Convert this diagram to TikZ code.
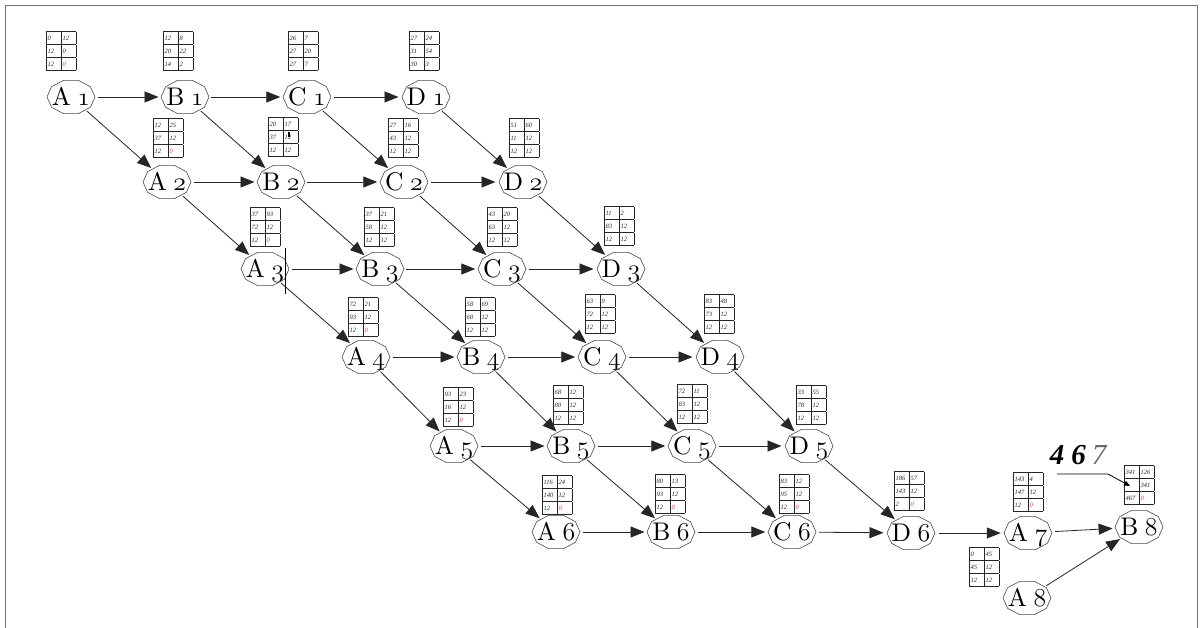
\documentclass[tikz,border=0pt]{standalone}
\usepackage{graphicx}
\usepackage{fontspec}
\newfontfamily\tms{Liberation Serif}
\usetikzlibrary{arrows.meta,shapes.geometric}
\definecolor{zred}{RGB}{225,60,60}
% red zero in the last cell
\newcommand\zr{\textcolor{zred}{0}}
% 2 x 3 grid of values above a state
\newcommand\cells[6]{{\tms\itshape\fontsize{6.5}{12}\selectfont
  \setlength\tabcolsep{1.5pt}\setlength\arrayrulewidth{0.8pt}%
  \begin{tabular}{|p{12pt}|p{12pt}|}\hline #1&#2\\\hline #3&#4\\\hline #5&#6\\\hline\end{tabular}}}
% old-style stage number, taken from the cmmi figures
\newcommand\osn[1]{\scalebox{2.15}{\fontsize{12}{12}\usefont{OML}{cmm}{m}{it}#1}}
% state letter
\newcommand\ltr[1]{\scalebox{2.55}{\fontsize{10}{10}\selectfont #1}}
% state label: letter and stage number
\newcommand\lab[2]{\ltr{#1}\hspace{6.5pt}\osn{#2}}

\begin{document}
\begin{tikzpicture}[x=1pt,y=-1pt,
  st/.style={ellipse, minimum width=47pt, minimum height=34pt, inner sep=0pt,
    text height=17pt, text depth=0pt},
  poly/.style={draw=black!70, line width=0.6pt},
  tb/.style={inner sep=0pt, text=black!85},
  ed/.style={draw=black!85, line width=0.8pt, -{Triangle[length=14pt,width=11pt]}},
]
\useasboundingbox (0,0) rectangle (1202,628);
\fill[white] (0,0) rectangle (1202,628);
\draw[black!55, line width=0.8pt] (5,628) -- (5,5) -- (1197,5) -- (1197,628);

% states
\node[st] (A1) at (71,97)  {\lab{A}{1}};
\node[st] (B1) at (185,97) {\lab{B}{1}};
\node[st] (C1) at (307,97) {\lab{C}{1}};
\node[st] (D1) at (426,97) {\lab{D}{1}};
\node[st] (A2) at (167,182) {\lab{A}{2}};
\node[st] (B2) at (281,182) {\lab{B}{2}};
\node[st] (C2) at (404,182) {\lab{C}{2}};
\node[st] (D2) at (523,182) {\lab{D}{2}};
\node[st] (A3) at (265,269) {\lab{A}{3}};
\node[st] (B3) at (380,269) {\lab{B}{3}};
\node[st] (C3) at (502,269) {\lab{C}{3}};
\node[st] (D3) at (621,269) {\lab{D}{3}};
\node[st] (A4) at (366,357) {\lab{A}{4}};
\node[st] (B4) at (481,357) {\lab{B}{4}};
\node[st] (C4) at (602,357) {\lab{C}{4}};
\node[st] (D4) at (720,357) {\lab{D}{4}};
\node[st] (A5) at (454,446) {\lab{A}{5}};
\node[st] (B5) at (571,446) {\lab{B}{5}};
\node[st] (C5) at (692,446) {\lab{C}{5}};
\node[st] (D5) at (809,446) {\lab{D}{5}};
\node[st] (A6) at (556,532) {\lab{A}{6}};
\node[st] (B6) at (671,532) {\lab{B}{6}};
\node[st] (C6) at (792,532) {\lab{C}{6}};
\node[st] (D6) at (911,533) {\lab{D}{6}};
\node[st] (A7) at (1028,533) {\lab{A}{7}};
\node[st] (B8) at (1139,527) {\lab{B}{8}};
\node[st] (A8) at (1027,598) {\lab{A}{8}};

% decagon outlines of the states
\foreach \n in {A1,B1,C1,D1,A2,B2,C2,D2,A3,B3,C3,D3,A4,B4,C4,D4,
                A5,B5,C5,D5,A6,B6,C6,D6,A7,B8,A8}{
  \draw[poly, shift={(\n.center)}] (0:24pt and 17.5pt)
    \foreach \a in {36,72,...,324}{ -- (\a:24pt and 17.5pt)} -- cycle;
}

% value grids
\node[tb] (tA1) at (61,51)  {\cells{0}{12}{12}{0}{12}{\zr}};
\node[tb] (tB1) at (178,51) {\cells{12}{8}{20}{22}{14}{2}};
\node[tb] (tC1) at (303,51) {\cells{26}{7}{27}{20}{27}{7}};
\node[tb] (tD1) at (424,51) {\cells{27}{24}{31}{54}{30}{3}};
\node[tb] (tA2) at (168,138) {\cells{12}{25}{37}{12}{12}{\zr}};
\node[tb] (tB2) at (283,137) {\cells{20}{17}{37}{12}{12}{12}};
\node[tb] (tC2) at (403,138) {\cells{27}{16}{43}{12}{12}{12}};
\node[tb] (tD2) at (524,138) {\cells{51}{60}{11}{12}{12}{12}};
\node[tb] (tA3) at (265,227) {\cells{37}{93}{72}{12}{12}{\zr}};
\node[tb] (tB3) at (379,227) {\cells{37}{21}{58}{12}{12}{12}};
\node[tb] (tC3) at (502,227) {\cells{43}{20}{63}{12}{12}{12}};
\node[tb] (tD3) at (619,226) {\cells{11}{2}{83}{12}{12}{12}};
\node[tb] (tA4) at (363,317) {\cells{72}{21}{93}{12}{12}{\zr}};
\node[tb] (tB4) at (480,317) {\cells{58}{69}{68}{12}{12}{12}};
\node[tb] (tC4) at (600,314) {\cells{63}{9}{72}{12}{12}{12}};
\node[tb] (tD4) at (719,314) {\cells{83}{48}{73}{12}{12}{12}};
\node[tb] (tA5) at (458,407) {\cells{93}{23}{16}{12}{12}{\zr}};
\node[tb] (tB5) at (568,405) {\cells{68}{12}{80}{12}{12}{12}};
\node[tb] (tC5) at (692,404) {\cells{72}{11}{83}{12}{12}{12}};
\node[tb] (tD5) at (811,405) {\cells{33}{55}{78}{12}{12}{12}};
\node[tb] (tA6) at (557,495) {\cells{116}{24}{140}{12}{12}{\zr}};
\node[tb] (tB6) at (670,494) {\cells{80}{13}{93}{12}{12}{\zr}};
\node[tb] (tC6) at (794,494) {\cells{83}{12}{95}{12}{12}{\zr}};
\node[tb] (tD6) at (909,491) {\cells{186}{57}{143}{12}{2}{\zr}};
\node[tb] (tA7) at (1028,492) {\cells{143}{4}{147}{12}{12}{\zr}};
\node[tb] (tA8) at (984,567) {\cells{0}{45}{45}{12}{12}{12}};
\node[tb] (tB8) at (1139,485) {\cells{341}{126}{}{341}{467}{\zr}};

% marks on the grid of B2 and beside A3
\fill (287.5,132) rectangle (290,137.5);
\draw[line width=0.8pt] (285,248) -- (285,294);

% transitions within a stage row
\foreach \u/\v in {A1/B1,B1/C1,C1/D1,A2/B2,B2/C2,C2/D2,A3/B3,B3/C3,C3/D3,
                   A4/B4,B4/C4,C4/D4,A5/B5,B5/C5,C5/D5,A6/B6,B6/C6,C6/D6,
                   D6/A7,A7/B8,A8/B8}
  \draw[ed] (\u) -- (\v);
% transitions to the next stage
\foreach \c in {A,B,C,D}{
  \foreach \i [evaluate=\i as \j using int(\i+1)] in {1,...,5}
    \draw[ed] (\c\i) -- (\c\j);
}

% optimal value
\node[font=\tms\bfseries\itshape\fontsize{29}{29}\selectfont, inner sep=0pt]
  (opt) at (1078,455) {4\hspace{7pt}6\hspace{6pt}{\mdseries\color{black!60}7}};
\coordinate (l0) at (1057,474);
\coordinate (l1) at (1108,474);
\coordinate (l2) at (1130,486);
\draw[line width=0.8pt, -{Triangle[length=6pt,width=5pt]}] (l0) -- (l1) -- (l2);
\end{tikzpicture}
\end{document}
